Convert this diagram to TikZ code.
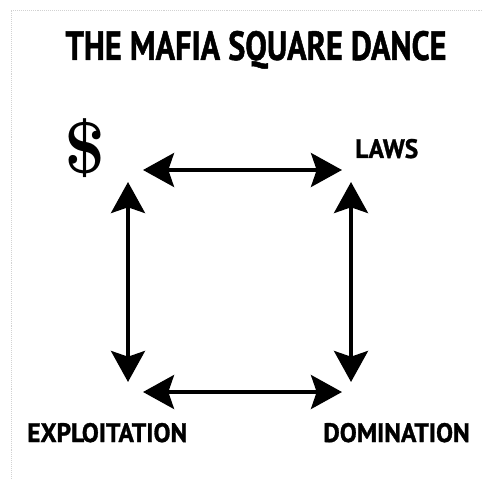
\documentclass[tikz,border=0pt]{standalone}
\usepackage{fontspec}
\newfontfamily\headfont[FakeStretch=0.79, FakeBold=1.2]{PT Sans}
\newfontfamily\labelfont[FakeStretch=0.95, FakeBold=1.2]{PT Sans}
\usetikzlibrary{arrows.meta,positioning}
\tikzset{>={Stealth[length=22pt,width=24pt,inset=4pt]}}
\tikzset{dance/.style={<->, line width=3.2pt}}
\tikzset{corner/.style={font=\labelfont\bfseries\fontsize{19}{19}\selectfont, inner sep=0pt}}

\begin{document}
\begin{tikzpicture}[x=0.025cm, y=-0.025cm]
  \useasboundingbox (0,0) rectangle (482,490);
  % scanned frame
  \draw[gray!35, densely dotted, thin] (482,10) -- (11,10) -- (11,480);
  \node[inner sep=0pt, anchor=base, font=\headfont\bfseries\fontsize{29}{29}\selectfont] (title) at (256,60) {THE MAFIA SQUARE DANCE};
  \node[inner sep=0pt, font=\bfseries\fontsize{52}{52}\selectfont] (dollar) at (85,148) {\$};
  \node[corner, anchor=base west] (laws) at (355,158) {LAWS};
  \node[corner, anchor=base west] (exploit) at (27,442) {EXPLOITATION};
  \node[corner, anchor=base east] (domin) at (470,442) {DOMINATION};
  % ends of the four arrows
  \coordinate (tl) at (143,170);
  \coordinate (tr) at (342,170);
  \coordinate (bl) at (143,392);
  \coordinate (br) at (342,392);
  \coordinate (lt) at (128,182);
  \coordinate (lb) at (128,382);
  \coordinate (rt) at (351,182);
  \coordinate (rb) at (351,382);
  \foreach \a/\b in {tl/tr, bl/br, lt/lb, rt/rb}
    \draw[dance] (\a) -- (\b);
\end{tikzpicture}
\end{document}
